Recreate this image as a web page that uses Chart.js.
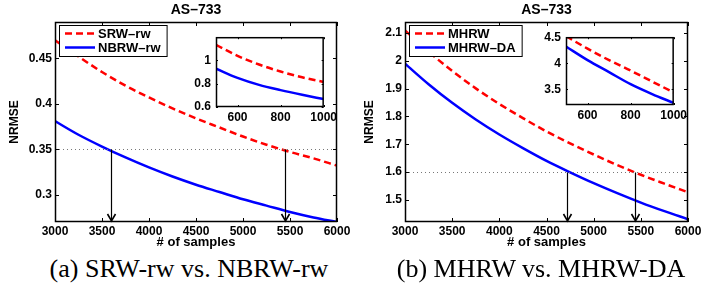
<!DOCTYPE html>
<html>
<head>
<meta charset="utf-8">
<script src="https://cdn.jsdelivr.net/npm/chart.js@4.4.1/dist/chart.umd.min.js"></script>
<style>
  body { margin: 0; background: #fff; }
  #wrap { position: relative; width: 723px; height: 286px; overflow: hidden; background: #fff; }
  canvas { position: absolute; }
  .cap { position: absolute; top: 256px; font-family: "Liberation Serif", serif; font-size: 26px; line-height: 26px; white-space: nowrap; transform: translateX(-50%); color: #000; }
</style>
</head>
<body>
<div id="wrap">
  <canvas id="mainA" width="360" height="250" style="left:0;top:0"></canvas>
  <canvas id="mainB" width="368" height="250" style="left:355px;top:0"></canvas>
  <canvas id="insetA" width="160" height="100" style="left:180px;top:25px"></canvas>
  <canvas id="insetB" width="160" height="100" style="left:530px;top:25px"></canvas>
  <div class="cap" style="left:189px">(a) SRW-rw vs. NBRW-rw</div>
  <div class="cap" style="left:541px">(b) MHRW vs. MHRW-DA</div>
</div>
<script>
// main panels: NRMSE vs number of samples
const samples = [3000, 3250, 3500, 3750, 4000, 4250, 4500, 4750, 5000, 5250, 5500, 5750, 6000];
const srw    = [0.470, 0.452, 0.435, 0.420, 0.407, 0.395, 0.384, 0.374, 0.364, 0.355, 0.347, 0.340, 0.332];
const nbrw   = [0.381, 0.366, 0.353, 0.341, 0.330, 0.320, 0.311, 0.303, 0.295, 0.288, 0.281, 0.275, 0.270];
const mhrw   = [2.110, 2.033, 1.964, 1.901, 1.845, 1.794, 1.746, 1.703, 1.663, 1.625, 1.590, 1.558, 1.527];
const mhrwda = [1.990, 1.916, 1.849, 1.789, 1.735, 1.686, 1.640, 1.599, 1.560, 1.524, 1.490, 1.459, 1.430];

// insets: small sample sizes
const insetSamples = [500, 600, 700, 800, 900, 1000];
const srwSmall    = [1.135, 1.040, 0.965, 0.905, 0.855, 0.815];
const nbrwSmall   = [0.930, 0.850, 0.790, 0.745, 0.705, 0.668];
const mhrwSmall   = [4.52, 4.28, 4.06, 3.86, 3.65, 3.44];
const mhrwdaSmall = [4.32, 4.06, 3.83, 3.60, 3.41, 3.24];

// target error level and where each walk reaches it
const levelA = 0.35;
const crossA = [3600, 5450];
const levelB = 1.6;
const crossB = [4715, 5440];

// tick labels
const xTicks = [3000, 3500, 4000, 4500, 5000, 5500, 6000];
const yTicksA = [0.3, 0.35, 0.4, 0.45];
const yTicksB = [1.5, 1.6, 1.7, 1.8, 1.9, 2, 2.1];
const insetXTicks = [600, 800, 1000];
const insetYTicksA = [0.6, 0.8, 1];
const insetYTicksB = [3.5, 4, 4.5];

const RED = "#ff0000";
const BLUE = "#0000ff";
Chart.defaults.font.family = '"Liberation Sans", Arial, sans-serif';
Chart.defaults.font.weight = "bold";
Chart.defaults.color = "#000";

function pts(xs, ys) {
  return xs.map((x, i) => ({ x: x, y: ys[i] }));
}

function bold(size) {
  return { size: size, weight: "bold", family: '"Liberation Sans", Arial, sans-serif' };
}

// box, inward ticks, reference line with arrows, boxed legend
const framePlugin = {
  id: "frame",
  beforeDatasetsDraw(chart) {
    const { ctx, chartArea: a } = chart;
    ctx.save();
    ctx.fillStyle = "#fff";
    ctx.fillRect(a.left, a.top, a.right - a.left, a.bottom - a.top);
    ctx.restore();
  },
  afterDatasetsDraw(chart, args, o) {
    const { ctx, chartArea: a, scales: { x, y } } = chart;
    ctx.save();

    if (o.level != null) {
      const ly = Math.round(y.getPixelForValue(o.level)) + 0.5;
      ctx.strokeStyle = "#777";
      ctx.lineWidth = 1;
      ctx.setLineDash([1, 3]);
      ctx.beginPath();
      ctx.moveTo(a.left, ly);
      ctx.lineTo(a.right, ly);
      ctx.stroke();
      ctx.setLineDash([]);
      ctx.strokeStyle = "#000";
      o.cross.forEach(v => {
        const px = Math.round(x.getPixelForValue(v)) + 0.5;
        ctx.lineWidth = 1.2;
        ctx.beginPath();
        ctx.moveTo(px, ly);
        ctx.lineTo(px, a.bottom - 1);
        ctx.stroke();
        ctx.lineWidth = 1.6;
        ctx.beginPath();
        ctx.moveTo(px - 4, a.bottom - 8);
        ctx.lineTo(px, a.bottom - 1);
        ctx.lineTo(px + 4, a.bottom - 8);
        ctx.stroke();
      });
    }

    ctx.strokeStyle = "#000";
    ctx.lineWidth = o.lw;
    ctx.strokeRect(a.left + 0.5, a.top + 0.5, a.right - a.left - 1, a.bottom - a.top - 1);
    const t = o.tick;
    ctx.lineWidth = 1;
    ctx.beginPath();
    x.ticks.forEach(tk => {
      const px = Math.round(x.getPixelForValue(tk.value)) + 0.5;
      ctx.moveTo(px, a.bottom); ctx.lineTo(px, a.bottom - t);
      ctx.moveTo(px, a.top); ctx.lineTo(px, a.top + t);
    });
    y.ticks.forEach(tk => {
      const py = Math.round(y.getPixelForValue(tk.value)) + 0.5;
      ctx.moveTo(a.left, py); ctx.lineTo(a.left + t, py);
      ctx.moveTo(a.right, py); ctx.lineTo(a.right - t, py);
    });
    ctx.stroke();

    if (o.legend) {
      ctx.font = "bold 13px 'Liberation Sans', Arial, sans-serif";
      const sets = chart.data.datasets;
      const tw = Math.max(...sets.map(d => ctx.measureText(d.label).width));
      const bx = a.left + 4, by = a.top + 3;
      const bw = 40 + tw + 5, bh = 31;
      ctx.fillStyle = "#fff";
      ctx.fillRect(bx, by, bw, bh);
      ctx.lineWidth = 1;
      ctx.strokeStyle = "#000";
      ctx.strokeRect(bx + 0.5, by + 0.5, bw, bh);
      sets.forEach((d, i) => {
        const ry = by + 8.5 + i * 14;
        ctx.strokeStyle = d.borderColor;
        ctx.lineWidth = d.borderWidth;
        ctx.setLineDash(d.borderDash || []);
        ctx.beginPath();
        ctx.moveTo(bx + 6, ry);
        ctx.lineTo(bx + 36, ry);
        ctx.stroke();
        ctx.setLineDash([]);
        ctx.fillStyle = "#000";
        ctx.textBaseline = "middle";
        ctx.fillText(d.label, bx + 39, ry + 0.5);
      });
    }
    ctx.restore();
  }
};

function fixedTicks(list) {
  return s => { s.ticks = list.map(v => ({ value: v })); };
}

function mainChart(id, o) {
  return new Chart(document.getElementById(id), {
    type: "line",
    data: {
      datasets: [
        { label: o.names[0], data: pts(samples, o.red), borderColor: RED, borderDash: [7, 4], borderWidth: 2.5, pointRadius: 0, cubicInterpolationMode: "monotone" },
        { label: o.names[1], data: pts(samples, o.blue), borderColor: BLUE, borderWidth: 2.5, pointRadius: 0, cubicInterpolationMode: "monotone" }
      ]
    },
    options: {
      responsive: false,
      animation: false,
      devicePixelRatio: 1,
      layout: { padding: { top: 0, left: 0, bottom: 0, right: o.padRight } },
      scales: {
        x: {
          type: "linear", min: 3000, max: 6000,
          afterBuildTicks: fixedTicks(xTicks),
          afterFit: s => { s.height = 28; },
          grid: { display: false, drawTicks: false },
          border: { display: false },
          ticks: { padding: 2, maxRotation: 0, autoSkip: false, font: bold(12), color: "#000", callback: v => String(v) },
          title: { display: true, text: "# of samples", font: bold(13), color: "#000", padding: { top: 0, bottom: 0 } }
        },
        y: {
          min: o.yMin, max: o.yMax,
          afterBuildTicks: fixedTicks(o.yTicks),
          afterFit: s => { s.width = o.yWidth; },
          grid: { display: false, drawTicks: false },
          border: { display: false },
          ticks: { padding: 3, autoSkip: false, font: bold(12), color: "#000", callback: v => String(v) },
          title: { display: true, text: "NRMSE", font: bold(12), color: "#000", padding: { top: 7, bottom: 0 } }
        }
      },
      plugins: {
        legend: { display: false },
        tooltip: { enabled: false },
        title: { display: true, text: "AS–733", fullSize: false, font: bold(14), color: "#000", padding: { top: 1.5, bottom: 3.7 } },
        frame: { level: o.level, cross: o.cross, tick: 4, lw: 1.5, legend: true }
      }
    },
    plugins: [framePlugin]
  });
}

function insetChart(id, o) {
  return new Chart(document.getElementById(id), {
    type: "line",
    data: {
      datasets: [
        { data: pts(insetSamples, o.red), borderColor: RED, borderDash: [7, 4], borderWidth: 2.5, pointRadius: 0, cubicInterpolationMode: "monotone" },
        { data: pts(insetSamples, o.blue), borderColor: BLUE, borderWidth: 2.5, pointRadius: 0, cubicInterpolationMode: "monotone" }
      ]
    },
    options: {
      responsive: false,
      animation: false,
      devicePixelRatio: 1,
      layout: { padding: { top: 6, left: 0, bottom: 0, right: 15 } },
      scales: {
        x: {
          type: "linear", min: 500, max: 1000,
          afterBuildTicks: fixedTicks(insetXTicks),
          afterFit: s => { s.height = o.xHeight; },
          grid: { display: false, drawTicks: false },
          border: { display: false },
          ticks: { padding: 3, maxRotation: 0, autoSkip: false, font: bold(12), color: "#000", callback: v => String(v) }
        },
        y: {
          min: o.yMin, max: o.yMax,
          afterBuildTicks: fixedTicks(o.yTicks),
          afterFit: s => { s.width = 36; },
          grid: { display: false, drawTicks: false },
          border: { display: false },
          ticks: { padding: 5, autoSkip: false, font: bold(12), color: "#000", callback: v => String(v) }
        }
      },
      plugins: {
        legend: { display: false },
        tooltip: { enabled: false },
        frame: { tick: 2, lw: 1.5, legend: false }
      }
    },
    plugins: [framePlugin]
  });
}

mainChart("mainA", { names: ["SRW–rw", "NBRW–rw"], red: srw, blue: nbrw, yMin: 0.27, yMax: 0.49, yTicks: yTicksA, yWidth: 55, padRight: 23, level: levelA, cross: crossA });
mainChart("mainB", { names: ["MHRW", "MHRW–DA"], red: mhrw, blue: mhrwda, yMin: 1.42, yMax: 2.14, yTicks: yTicksB, yWidth: 50, padRight: 35, level: levelB, cross: crossB });
insetChart("insetA", { red: srwSmall, blue: nbrwSmall, yMin: 0.6, yMax: 1.2, yTicks: insetYTicksA, xHeight: 18 });
insetChart("insetB", { red: mhrwSmall, blue: mhrwdaSmall, yMin: 3.2, yMax: 4.5, yTicks: insetYTicksB, xHeight: 20 });
</script>
</body>
</html>
